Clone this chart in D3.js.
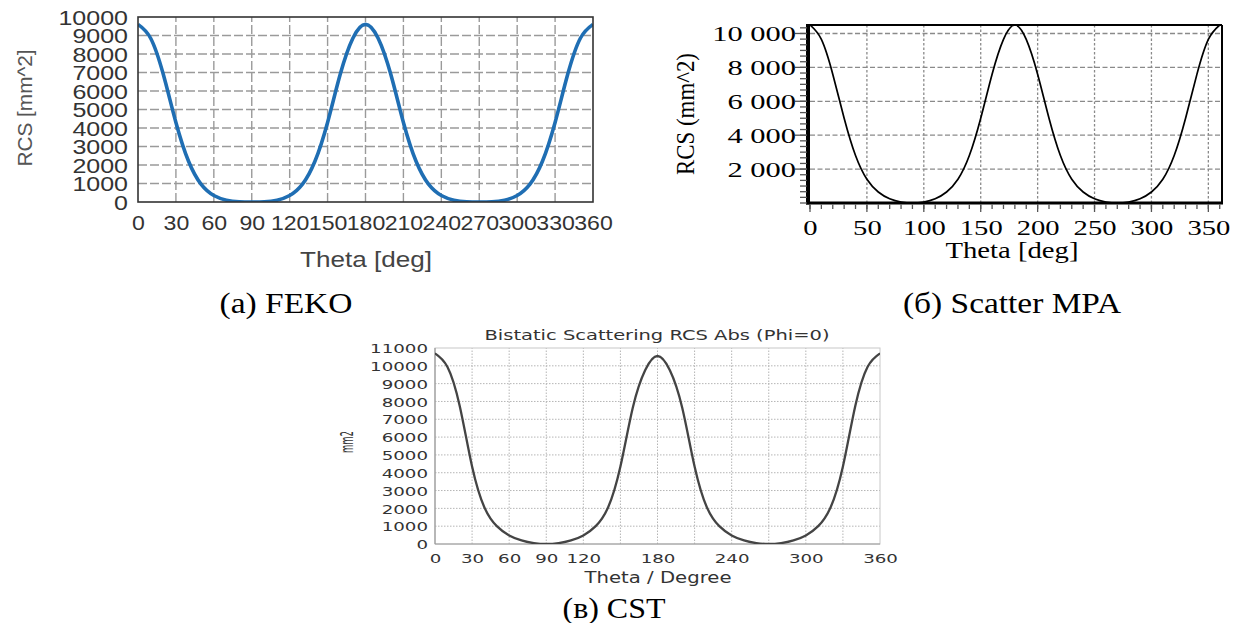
<!DOCTYPE html>
<html><head><meta charset="utf-8">
<script src="https://cdn.jsdelivr.net/npm/d3@7"></script>
<style>body{margin:0;background:#fff}svg{display:block}</style>
</head><body>
<svg id="c" width="1242" height="623"></svg>
<script>
// ---------- data ----------
const theta = [0,10,20,30,40,50,60,70,80,90,100,110,120,130,140,150,160,170,180,
  190,200,210,220,230,240,250,260,270,280,290,300,310,320,330,340,350,360];
const fekoRCS = [9600,8850,6900,4300,2200,950,350,100,15,0,15,100,350,950,2200,4300,6900,8850,9600,
  8850,6900,4300,2200,950,350,100,15,0,15,100,350,950,2200,4300,6900,8850,9600];
const mpaRCS = [10500,9650,7600,5000,2800,1400,650,250,60,0,60,250,650,1400,2800,5000,7600,9650,10500,
  9650,7600,5000,2800,1400,650,250,60,0,60,250,650,1400,2800,5000,7600,9650,10500];
const cstRCS = [10700,9950,7750,4350,2050,1000,480,200,50,0,50,200,480,1000,2050,4350,7650,9750,10550,
  9750,7650,4350,2050,1000,480,200,50,0,50,200,480,1000,2050,4350,7750,9950,10700];

const fekoXTicks = [0,30,60,90,120,150,180,210,240,270,300,330,360];
const fekoYTicks = [0,1000,2000,3000,4000,5000,6000,7000,8000,9000,10000];
const mpaXTicks = [0,50,100,150,200,250,300,350];
const mpaYTicks = [2000,4000,6000,8000,10000];
const cstXLabels = [0,30,60,90,120,180,240,300,360];
const cstXGrid = [30,60,90,120,150,180,210,240,270,300,330];
const cstYTicks = [0,1000,2000,3000,4000,5000,6000,7000,8000,9000,10000,11000];

const titles = {
  fekoY: "RCS [mm^2]", fekoX: "Theta [deg]", fekoCap: "(a) FEKO",
  mpaY: "RCS (mm^2)", mpaX: "Theta [deg]", mpaCap: "(б) Scatter MPA",
  cstTitle: "Bistatic Scattering RCS Abs (Phi=0)", cstY: "mm2", cstX: "Theta / Degree", cstCap: "(в) CST"
};

// ---------- helpers ----------
const svg = d3.select('#c');
function scaleText(sel, f){ sel.each(function(){ const w=this.getComputedTextLength(); d3.select(this).attr('textLength', w*f).attr('lengthAdjust','spacingAndGlyphs'); }); }
function fitText(sel, w){ sel.attr('textLength', w).attr('lengthAdjust','spacingAndGlyphs'); }
const SANS = "Liberation Sans, Arial, sans-serif";
const SERIF = "Liberation Serif, Times New Roman, serif";
const VERD = "DejaVu Sans, Verdana, sans-serif";

// ================= Panel (a) FEKO =================
{
  const x = d3.scaleLinear([0,360],[138,593]);
  const y = d3.scaleLinear([0,10000],[202,17]);
  const g = svg.append('g');
  g.append('defs').append('clipPath').attr('id','clipA').append('rect')
    .attr('x',x(0)).attr('y',y(10000)).attr('width',x(360)-x(0)).attr('height',y(0)-y(10000));
  g.append('g').selectAll('line').data(fekoXTicks.slice(1,-1)).join('line')
    .attr('x1',d=>x(d)).attr('x2',d=>x(d)).attr('y1',y(0)).attr('y2',y(10000))
    .attr('stroke','#9a9a9a').attr('stroke-width',1.4).attr('stroke-dasharray','9,3');
  g.append('g').selectAll('line').data(fekoYTicks.slice(1,-1)).join('line')
    .attr('x1',x(0)).attr('x2',x(360)).attr('y1',d=>y(d)).attr('y2',d=>y(d))
    .attr('stroke','#9a9a9a').attr('stroke-width',1.4).attr('stroke-dasharray','9,3');
  g.append('path').datum(theta).attr('clip-path','url(#clipA)').attr('fill','none').attr('stroke','#1f6eb3').attr('stroke-width',3.6)
    .attr('d', d3.line().x(d=>x(d)).y((d,i)=>y(fekoRCS[i])).curve(d3.curveNatural));
  g.append('rect').attr('x',x(0)).attr('y',y(10000)).attr('width',x(360)-x(0)).attr('height',y(0)-y(10000))
    .attr('fill','none').attr('stroke','#333').attr('stroke-width',1.6);
  const ya = g.append('g').attr('transform',`translate(${x(0)},0)`)
    .call(d3.axisLeft(y).tickValues(fekoYTicks).tickSize(0).tickPadding(10).tickFormat(d3.format('d')));
  ya.select('.domain').remove();
  ya.selectAll('text').style('font-family',SANS).style('font-size','20px').attr('fill','#333').attr('dy','0.36em');
  scaleText(ya.selectAll('text'),1.25);
  const xa = g.append('g').attr('transform',`translate(0,${y(0)})`)
    .call(d3.axisBottom(x).tickValues(fekoXTicks).tickSize(0).tickPadding(13).tickFormat(d3.format('d')));
  xa.select('.domain').remove();
  xa.selectAll('text').style('font-family',SANS).style('font-size','21px').attr('fill','#333');
  scaleText(xa.selectAll('text'),1.1);
  const t1 = g.append('text').attr('transform','translate(32,108) rotate(-90)').attr('text-anchor','middle')
    .style('font-family',SANS).style('font-size','21px').attr('fill','#555').text(titles.fekoY);
  fitText(t1,117);
  const t2 = g.append('text').attr('x',366).attr('y',267).attr('text-anchor','middle')
    .style('font-family',SANS).style('font-size','22px').attr('fill','#444').text(titles.fekoX);
  fitText(t2,132);
  const t3 = g.append('text').attr('x',286).attr('y',313).attr('text-anchor','middle')
    .style('font-family',SERIF).style('font-size','29px').attr('fill','#000').text(titles.fekoCap);
  fitText(t3,133);
}

// ================= Panel (б) Scatter MPA =================
{
  const x = d3.scaleLinear([0,362],[810,1222]);
  const y = d3.scaleLinear([0,10500],[203,25]);
  const g = svg.append('g');
  g.append('defs').append('clipPath').attr('id','clipB').append('rect')
    .attr('x',x(0)).attr('y',y(10500)).attr('width',x(362)-x(0)).attr('height',y(0)-y(10500));
  g.append('g').selectAll('line').data(mpaYTicks).join('line')
    .attr('x1',x(0)).attr('x2',x(362)).attr('y1',d=>y(d)).attr('y2',d=>y(d))
    .attr('stroke','#8a8a8a').attr('stroke-width',1.3).attr('stroke-dasharray','5,2.5');
  g.append('g').selectAll('line').data(mpaXTicks.slice(1)).join('line')
    .attr('x1',d=>x(d)).attr('x2',d=>x(d)).attr('y1',y(0)).attr('y2',y(10500))
    .attr('stroke','#8a8a8a').attr('stroke-width',1.3).attr('stroke-dasharray','2.5,2');
  g.append('path').datum(theta).attr('clip-path','url(#clipB)').attr('fill','none').attr('stroke','#000').attr('stroke-width',1.7)
    .attr('d', d3.line().x(d=>x(d)).y((d,i)=>y(mpaRCS[i])).curve(d3.curveNatural));
  // frame
  g.append('line').attr('x1',x(0)).attr('x2',x(362)).attr('y1',y(10500)).attr('y2',y(10500)).attr('stroke','#000').attr('stroke-width',2);
  g.append('line').attr('x1',x(362)).attr('x2',x(362)).attr('y1',y(10500)).attr('y2',y(0)).attr('stroke','#000').attr('stroke-width',2);
  g.append('line').attr('x1',x(0)-2).attr('x2',x(0)-2).attr('y1',y(10500)-1).attr('y2',y(0)+1.5).attr('stroke','#000').attr('stroke-width',4);
  g.append('line').attr('x1',x(0)-4).attr('x2',x(362)+1).attr('y1',y(0)).attr('y2',y(0)).attr('stroke','#000').attr('stroke-width',3);
  // minor/major ticks
  const yMinor = d3.range(0, 10500, 1000/3);
  g.append('g').selectAll('line').data(yMinor).join('line')
    .attr('x1',x(0)-10).attr('x2',x(0)-3).attr('y1',d=>y(d)).attr('y2',d=>y(d)).attr('stroke','#555').attr('stroke-width',1.3);
  g.append('g').selectAll('line').data(mpaYTicks).join('line')
    .attr('x1',x(0)-15).attr('x2',x(0)-3).attr('y1',d=>y(d)).attr('y2',d=>y(d)).attr('stroke','#555').attr('stroke-width',1.3);
  const xMinor = d3.range(0, 361, 10);
  g.append('g').selectAll('line').data(xMinor).join('line')
    .attr('x1',d=>x(d)).attr('x2',d=>x(d)).attr('y1',y(0)+1.5).attr('y2',y(0)+6).attr('stroke','#555').attr('stroke-width',1.3);
  g.append('g').selectAll('line').data(mpaXTicks).join('line')
    .attr('x1',d=>x(d)).attr('x2',d=>x(d)).attr('y1',y(0)+1.5).attr('y2',y(0)+9).attr('stroke','#555').attr('stroke-width',1.3);
  const fmt = d3.formatLocale({decimal:'.',thousands:'\u00a0',grouping:[3],currency:['','']}).format(',');
  const ya = g.append('g').attr('transform',`translate(${x(0)},0)`)
    .call(d3.axisLeft(y).tickValues(mpaYTicks).tickSize(0).tickPadding(14).tickFormat(fmt));
  ya.select('.domain').remove();
  ya.selectAll('text').style('font-family',SERIF).style('font-size','21px').attr('fill','#000').attr('dy','0.33em');
  scaleText(ya.selectAll('text'),1.45);
  const xa = g.append('g').attr('transform',`translate(0,${y(0)})`)
    .call(d3.axisBottom(x).tickValues(mpaXTicks).tickSize(0).tickPadding(16).tickFormat(d3.format('d')));
  xa.select('.domain').remove();
  xa.selectAll('text').style('font-family',SERIF).style('font-size','22px').attr('fill','#000');
  scaleText(xa.selectAll('text'),1.3);
  const t1 = g.append('text').attr('transform','translate(694,114) rotate(-90)').attr('text-anchor','middle')
    .style('font-family',SERIF).style('font-size','25px').attr('fill','#000').text(titles.mpaY);
  fitText(t1,122);
  const t2 = g.append('text').attr('x',1012).attr('y',258).attr('text-anchor','middle')
    .style('font-family',SERIF).style('font-size','24px').attr('fill','#000').text(titles.mpaX);
  fitText(t2,133);
  const t3 = g.append('text').attr('x',1012).attr('y',313).attr('text-anchor','middle')
    .style('font-family',SERIF).style('font-size','29px').attr('fill','#000').text(titles.mpaCap);
  fitText(t3,218);
}

// ================= Panel (в) CST =================
{
  const x = d3.scaleLinear([0,360],[435,880]);
  const y = d3.scaleLinear([0,11000],[544,348]);
  const g = svg.append('g');
  g.append('defs').append('clipPath').attr('id','clipC').append('rect')
    .attr('x',x(0)).attr('y',y(11000)).attr('width',x(360)-x(0)).attr('height',y(0)-y(11000));
  g.append('g').selectAll('line').data(cstYTicks.slice(1,-1)).join('line')
    .attr('x1',x(0)).attr('x2',x(360)).attr('y1',d=>y(d)).attr('y2',d=>y(d))
    .attr('stroke','#b5b5b5').attr('stroke-width',1).attr('stroke-dasharray','1.5,1.5');
  g.append('g').selectAll('line').data(cstXGrid).join('line')
    .attr('x1',d=>x(d)).attr('x2',d=>x(d)).attr('y1',y(0)).attr('y2',y(11000))
    .attr('stroke','#b5b5b5').attr('stroke-width',1).attr('stroke-dasharray','1.5,1.5');
  g.append('rect').attr('x',x(0)).attr('y',y(11000)).attr('width',x(360)-x(0)).attr('height',y(0)-y(11000))
    .attr('fill','none').attr('stroke','#c8c8c8').attr('stroke-width',1);
  g.append('line').attr('x1',x(0)).attr('x2',x(0)).attr('y1',y(11000)).attr('y2',y(0)).attr('stroke','#999').attr('stroke-width',1.2);
  g.append('line').attr('x1',x(0)).attr('x2',x(360)).attr('y1',y(0)).attr('y2',y(0)).attr('stroke','#999').attr('stroke-width',1.2);
  g.append('path').datum(theta).attr('clip-path','url(#clipC)').attr('fill','none').attr('stroke','#444').attr('stroke-width',2.3)
    .attr('d', d3.line().x(d=>x(d)).y((d,i)=>y(cstRCS[i])).curve(d3.curveNatural));
  const ya = g.append('g').attr('transform',`translate(${x(0)},0)`)
    .call(d3.axisLeft(y).tickValues(cstYTicks).tickSize(0).tickPadding(7).tickFormat(d3.format('d')));
  ya.select('.domain').remove();
  ya.selectAll('text').style('font-family',VERD).style('font-size','13px').attr('fill','#333').attr('dy','0.36em');
  scaleText(ya.selectAll('text'),1.4);
  const xa = g.append('g').attr('transform',`translate(0,${y(0)})`)
    .call(d3.axisBottom(x).tickValues(cstXLabels).tickSize(0).tickPadding(10).tickFormat(d3.format('d')));
  xa.select('.domain').remove();
  xa.selectAll('text').style('font-family',VERD).style('font-size','13px').attr('fill','#333');
  scaleText(xa.selectAll('text'),1.4);
  const tt = g.append('text').attr('x',657).attr('y',340).attr('text-anchor','middle')
    .style('font-family',VERD).style('font-size','14px').attr('fill','#333').text(titles.cstTitle);
  fitText(tt,345);
  const t1 = g.append('text').attr('transform','translate(353,442) rotate(-90)').attr('text-anchor','middle')
    .style('font-family',VERD).style('font-size','17px').attr('fill','#333').text(titles.cstY);
  fitText(t1,22);
  const t2 = g.append('text').attr('x',658).attr('y',583).attr('text-anchor','middle')
    .style('font-family',VERD).style('font-size','15px').attr('fill','#333').text(titles.cstX);
  fitText(t2,147);
  const t3 = g.append('text').attr('x',614).attr('y',618).attr('text-anchor','middle')
    .style('font-family',SERIF).style('font-size','29px').attr('fill','#000').text(titles.cstCap);
  fitText(t3,103);
}
</script>
</body></html>
